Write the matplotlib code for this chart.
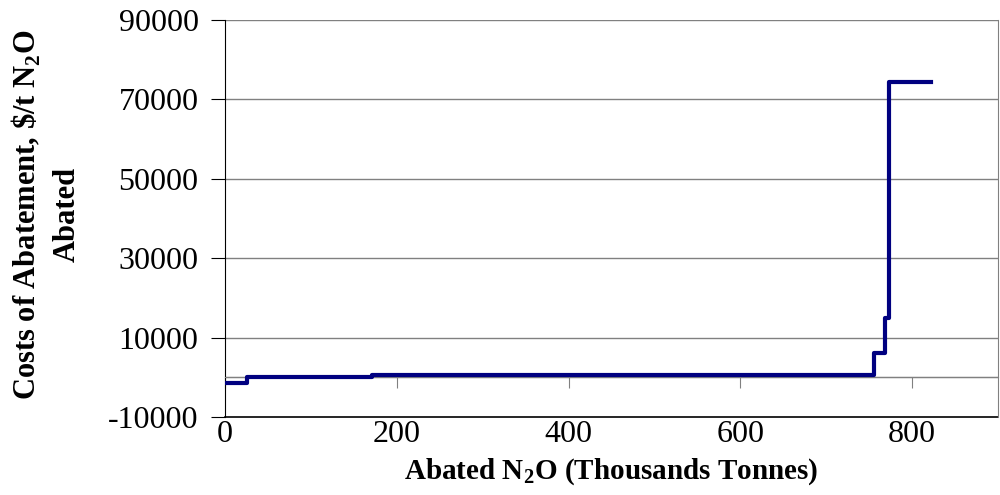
import matplotlib
matplotlib.use("Agg")
import matplotlib.pyplot as plt

# step edges (thousand tonnes) and costs ($/t N2O)
abated_kt = [0, 26, 171, 756, 769, 773, 822]
cost_usd = [-1500, 100, 600, 6000, 15000, 74500, 74500]

x_ticks = [0, 200, 400, 600, 800]
y_ticks = [-10000, 10000, 30000, 50000, 70000, 90000]

plt.rcParams["font.family"] = ["Liberation Serif", "DejaVu Serif"]
plt.rcParams["axes.unicode_minus"] = False

fig = plt.figure(figsize=(10, 4.95), dpi=100)
ax = fig.add_axes([0.225, 0.1576, 0.773, 0.802])

ax.set_xlim(0, 900)
ax.set_ylim(-10000, 90000)

# gridlines + zero line
for y in y_ticks[1:]:
    ax.axhline(y, color="#808080", lw=1.0, zorder=1)
ax.axhline(0, color="#808080", lw=1.0, zorder=1)

ax.step(abated_kt, cost_usd, where="post", color="#000080", lw=3.0, zorder=3)

# x axis sits at y=0, labels low
ax.spines["bottom"].set_position(("data", 0))
ax.spines["bottom"].set_color("#808080")
ax.spines["top"].set_visible(False)
ax.spines["right"].set_color("#808080")
ax.spines["left"].set_color("black")
ax.axhline(-10000, color="black", lw=1.2, zorder=2, clip_on=False)

ax.set_xticks(x_ticks)
ax.set_yticks(y_ticks)
ax.tick_params(axis="x", direction="out", length=8, color="#808080", pad=23, labelsize=23)
ax.tick_params(axis="y", direction="out", length=10, color="black", pad=9, labelsize=23)

ax.set_xlabel("Abated N$_\\mathregular{2}$O (Thousands Tonnes)", fontsize=21, fontweight="bold")
ax.xaxis.set_label_coords(0.5, -0.1)
ax.set_ylabel("Costs of Abatement, \\$/t N$_\\mathregular{2}$O\nAbated", fontsize=22,
              fontweight="bold", linespacing=1.45)
ax.yaxis.set_label_coords(-0.185, 0.51)

fig.savefig("out.png", dpi=100)
